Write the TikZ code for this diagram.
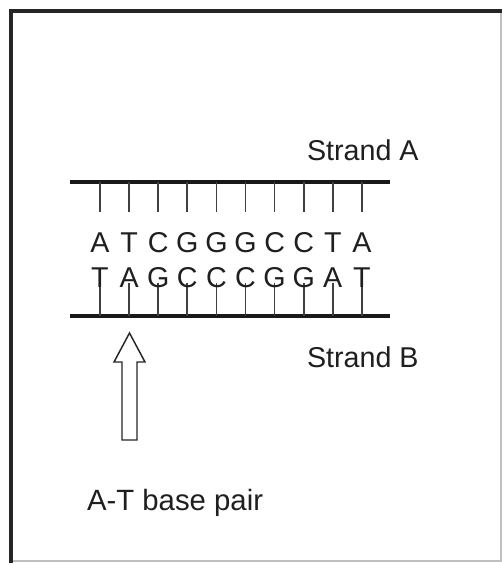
\documentclass[tikz,border=0pt]{standalone}
\usepackage{fontspec}
\setmainfont{Liberation Sans}
\begin{document}
\begin{tikzpicture}[x=0.75pt,y=-0.75pt,
  every node/.style={inner sep=0pt, outer sep=0pt, text=black!88},
  label text/.style={font=\fontsize{21.5}{25}\selectfont, anchor=base west},
  base letter/.style={font=\fontsize{21.5}{25}\selectfont, anchor=base},
  strand/.style={line width=3.2pt, black!90},
  tick/.style={line width=1.3pt, black!75},
  framedark/.style={line width=2.4pt, black!85},
  framelight/.style={line width=0.8pt, black!25},
  blockarrow/.style={line width=1.1pt, black!85, line join=miter}]
\useasboundingbox (0,0) rectangle (502,564);
\fill[white] (0,0) rectangle (502,564);

% frame
\draw[framelight] (11,11) rectangle (501,561);
\draw[framedark] (11,563) -- (11,11) -- (502,11);

% the two strands
\coordinate (A1) at (70,182);
\coordinate (A2) at (390,182);
\coordinate (B1) at (70,316);
\coordinate (B2) at (390,316);
\draw[strand] (A1) -- (A2);
\draw[strand] (B1) -- (B2);

% bases and their links to each strand
\foreach \top/\bot [count=\i from 0] in {A/T,T/A,C/G,G/C,G/C,G/C,C/G,C/G,T/A,A/T} {
  \pgfmathsetmacro{\xx}{100+29.1*\i}
  \coordinate (ta\i) at (\xx,182);
  \coordinate (tb\i) at (\xx,212);
  \coordinate (ba\i) at (\xx,316);
  \coordinate (bb\i) at (\xx,283);
  \draw[tick] (ta\i) -- (tb\i);
  \draw[tick] (ba\i) -- (bb\i);
  \node[base letter] (na\i) at (\xx,252) {\top};
  \node[base letter] (nb\i) at (\xx,287) {\bot};
}

% labels
\node[label text] (la) at (307,160) {Strand A};
\node[label text] (lb) at (307,367) {Strand B};
\node[label text, font=\fontsize{22}{26}\selectfont] (lp) at (87,510) {A-T base pair};

% hollow arrow pointing at the A-T pair
\draw[blockarrow] (129.5,333) -- (145,362) -- (137,362) -- (137,440)
  -- (122,440) -- (122,362) -- (114,362) -- cycle;
\end{tikzpicture}
\end{document}
